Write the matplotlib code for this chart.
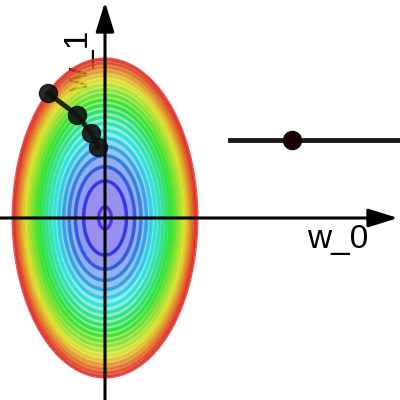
import numpy as np
import matplotlib.pyplot as plt
from matplotlib.colors import ListedColormap, hsv_to_rgb

plt.rcParams['font.family'] = ['Liberation Sans', 'DejaVu Sans']

# loss surface f(w0, w1) = a*w0^2 + b*w1^2
coef_w0 = 3.0
coef_w1 = 1.0
levels = np.linspace(0.012, 2.52, 21)

# gradient descent path (w0, w1)
path_w0 = [-0.57, -0.28, -0.14, -0.07]
path_w1 = [1.25, 1.03, 0.85, 0.71]

# 1d line on the right
line_x = [1.25, 2.95]
line_y = [0.78, 0.78]
dot_x = [1.87]
dot_y = [0.78]

# hue from blue-violet down to red
hues = np.linspace(0.7, 0.0, 256)
hsv = np.stack([hues, np.full(256, 0.85), np.full(256, 0.88)], axis=1)
cmap = ListedColormap(hsv_to_rgb(hsv))

fig = plt.figure(figsize=(4, 4), dpi=100)
ax = fig.add_axes([0, 0, 1, 1])
ax.set_xlim(-1.05, 2.95)
ax.set_ylim(-1.82, 2.18)
ax.axis('off')

# labels first, contours go over them
ax.text(2.33, -0.30, 'w_0', fontsize=24, ha='center', va='baseline', zorder=1)
ax.text(-0.17, 1.57, 'w_1', fontsize=24, ha='center', va='baseline', rotation=90,
        rotation_mode='anchor', zorder=1)

g0 = np.linspace(-1.2, 1.2, 500)
g1 = np.linspace(-1.9, 1.9, 500)
W0, W1 = np.meshgrid(g0, g1)
F = coef_w0 * W0**2 + coef_w1 * W1**2

ax.contourf(W0, W1, F, levels=np.concatenate([[0], levels]), cmap=cmap, alpha=0.5, zorder=2)
ax.contour(W0, W1, F, levels=levels, cmap=cmap, linewidths=2.6, alpha=0.75, zorder=3)

# axes arrows
arr = dict(arrowstyle='-|>,head_length=0.9,head_width=0.28', lw=2.2, color='k',
           mutation_scale=20, shrinkA=0, shrinkB=0)
ax.annotate('', xy=(2.93, 0), xytext=(-1.1, 0), arrowprops=arr, zorder=4)
ax.annotate('', xy=(0, 2.16), xytext=(0, -1.9), arrowprops=arr, zorder=4)

ax.plot(path_w0, path_w1, '-o', color='#111111', lw=3.5, ms=13, alpha=0.9, zorder=5)
ax.plot(line_x, line_y, '-', color='#1a1a1a', lw=3.5, zorder=5)
ax.plot(dot_x, dot_y, 'o', color='#1a0000', ms=13, zorder=6)

fig.savefig('out.png', dpi=100)
